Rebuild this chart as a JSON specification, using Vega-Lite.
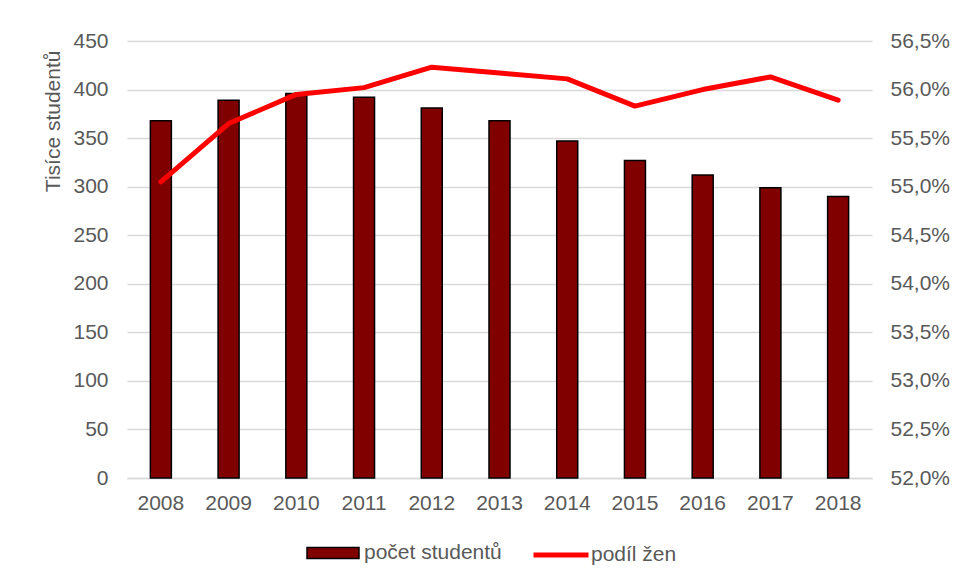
{
  "$schema": "https://vega.github.io/schema/vega-lite/v6.json",
  "width": 745,
  "height": 437,
  "autosize": {"type": "none"},
  "padding": {"left": 127, "top": 41, "right": 83, "bottom": 102},
  "background": "white",
  "config": {
    "locale": {"number": {"decimal": ",", "thousands": " ", "grouping": [3], "currency": ["", " Kč"]}},
    "view": {"stroke": null},
    "font": "Liberation Sans",
    "axis": {
      "labelFont": "Liberation Sans",
      "labelFontSize": 21,
      "labelColor": "#595959",
      "titleFont": "Liberation Sans",
      "titleFontSize": 21,
      "titleColor": "#595959",
      "titleFontWeight": "normal",
      "ticks": false,
      "domain": false,
      "gridColor": "#d9d9d9",
      "gridWidth": 1.5
    },
    "legend": {
      "labelFont": "Liberation Sans",
      "labelFontSize": 21,
      "labelColor": "#595959",
      "padding": 0
    }
  },
  "data": {
    "values": [
      {"rok": "2008", "studenti": 368, "podil": 0.5505},
      {"rok": "2009", "studenti": 389, "podil": 0.5565},
      {"rok": "2010", "studenti": 396, "podil": 0.5595},
      {"rok": "2011", "studenti": 392, "podil": 0.5602},
      {"rok": "2012", "studenti": 381, "podil": 0.5623},
      {"rok": "2013", "studenti": 368, "podil": 0.5617},
      {"rok": "2014", "studenti": 347, "podil": 0.5611},
      {"rok": "2015", "studenti": 327, "podil": 0.5583},
      {"rok": "2016", "studenti": 312, "podil": 0.5600},
      {"rok": "2017", "studenti": 299, "podil": 0.5613},
      {"rok": "2018", "studenti": 290, "podil": 0.5589}
    ]
  },
  "layer": [
    {
      "mark": {"type": "bar", "size": 21, "stroke": "#000000", "strokeWidth": 1.5},
      "encoding": {
        "x": {
          "field": "rok",
          "type": "ordinal",
          "scale": {"type": "band", "paddingInner": 0, "paddingOuter": 0},
          "axis": {"title": null, "labelAngle": 0, "labelPadding": 14, "domain": true, "domainColor": "#d9d9d9", "domainWidth": 1.5}
        },
        "y": {
          "field": "studenti",
          "type": "quantitative",
          "scale": {"domain": [0, 450]},
          "axis": {
            "values": [0, 50, 100, 150, 200, 250, 300, 350, 400, 450],
            "title": "Tisíce studentů",
            "labelPadding": 19,
            "titleAnchor": "end",
            "titleAlign": "right",
            "titleAngle": -90,
            "titleBaseline": "middle",
            "titleX": -74,
            "titleY": 9
          }
        },
        "fill": {
          "datum": "počet studentů",
          "type": "nominal",
          "scale": {"range": ["#800000"]},
          "legend": {
            "title": null,
            "orient": "none",
            "legendX": 179,
            "legendY": 485,
            "symbolType": "M-1,-0.21H1V0.21H-1Z",
            "symbolSize": 2704,
            "symbolStrokeColor": "#000000",
            "symbolStrokeWidth": 1.5,
            "labelOffset": 4
          }
        }
      }
    },
    {
      "mark": {"type": "line", "stroke": "#ff0000", "strokeWidth": 5, "strokeCap": "round", "strokeJoin": "round"},
      "encoding": {
        "x": {"field": "rok", "type": "ordinal", "scale": {"type": "band", "paddingInner": 0, "paddingOuter": 0}},
        "y": {
          "field": "podil",
          "type": "quantitative",
          "scale": {"domain": [0.52, 0.565]},
          "axis": {
            "orient": "right",
            "format": ".1%",
            "values": [0.52, 0.525, 0.53, 0.535, 0.54, 0.545, 0.55, 0.555, 0.56, 0.565],
            "grid": false,
            "title": null,
            "labelPadding": 18
          }
        },
        "stroke": {
          "datum": "podíl žen",
          "type": "nominal",
          "scale": {"range": ["#ff0000"]},
          "legend": {
            "title": null,
            "orient": "none",
            "legendX": 404,
            "legendY": 484,
            "symbolType": "stroke",
            "symbolSize": 3025,
            "symbolStrokeWidth": 5,
            "labelOffset": 0
          }
        }
      }
    }
  ],
  "resolve": {"scale": {"y": "independent", "fill": "independent", "stroke": "independent"}}
}
